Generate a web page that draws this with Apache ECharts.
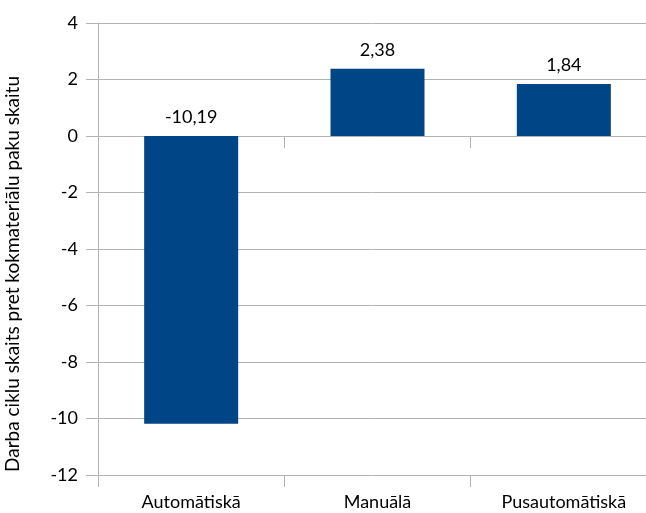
<!DOCTYPE html>
<html>
<head>
<meta charset="utf-8">
<script src="https://cdn.jsdelivr.net/npm/echarts@6/dist/echarts.min.js"></script>
<style>
html,body{margin:0;padding:0;background:#fff;}
#main{width:646px;height:513px;}
</style>
</head>
<body>
<div id="main"></div>
<script>
var categories = ['Automātiskā', 'Manuālā', 'Pusautomātiskā'];
var values = [-10.19, 2.38, 1.84];
var yMin = -12, yMax = 4, yStep = 2;
var yName = 'Darba ciklu skaits pret kokmateriālu paku skaitu';

var myChart = echarts.init(document.getElementById('main'));
var font = 'Lato, "Open Sans", sans-serif';

myChart.setOption({
    animation: false,
    grid: {left: 98, top: 23, right: -11, bottom: 38, containLabel: false, outerBoundsMode: 'none'},
    xAxis: [
        {
            // bottom axis with labels
            type: 'category',
            data: categories,
            position: 'bottom',
            axisLine: {show: false, onZero: false},
            axisTick: {show: true, length: 12, lineStyle: {color: '#b3b3b3'}},
            axisLabel: {margin: 18, color: '#000', fontFamily: font, fontSize: 18}
        },
        {
            // ticks on the zero line
            type: 'category',
            data: categories,
            position: 'bottom',
            axisLine: {show: true, onZero: true, lineStyle: {color: '#b3b3b3'}},
            axisTick: {show: true, length: 12, lineStyle: {color: '#b3b3b3'}},
            axisLabel: {show: false}
        }
    ],
    yAxis: {
        type: 'value',
        min: yMin,
        max: yMax,
        interval: yStep,
        name: yName,
        nameLocation: 'middle',
        nameRotate: 90,
        nameGap: 76,
        nameTextStyle: {color: '#000', fontFamily: font, fontSize: 19, padding: [0, 50, 0, 0]},
        axisLine: {show: true, lineStyle: {color: '#b3b3b3'}},
        axisTick: {show: true, length: 12, lineStyle: {color: '#b3b3b3'}},
        axisLabel: {margin: 20, color: '#000', fontFamily: font, fontSize: 18},
        splitLine: {show: true, lineStyle: {color: '#b3b3b3'}}
    },
    series: [{
        type: 'bar',
        data: values,
        barWidth: 94,
        itemStyle: {color: '#004586'},
        label: {
            show: true,
            position: 'top',
            distance: 10,
            color: '#000',
            fontFamily: font,
            fontSize: 18,
            formatter: function (p) {
                return String(p.value.toFixed(2)).replace('.', ',');
            }
        }
    }]
});
</script>
</body>
</html>
